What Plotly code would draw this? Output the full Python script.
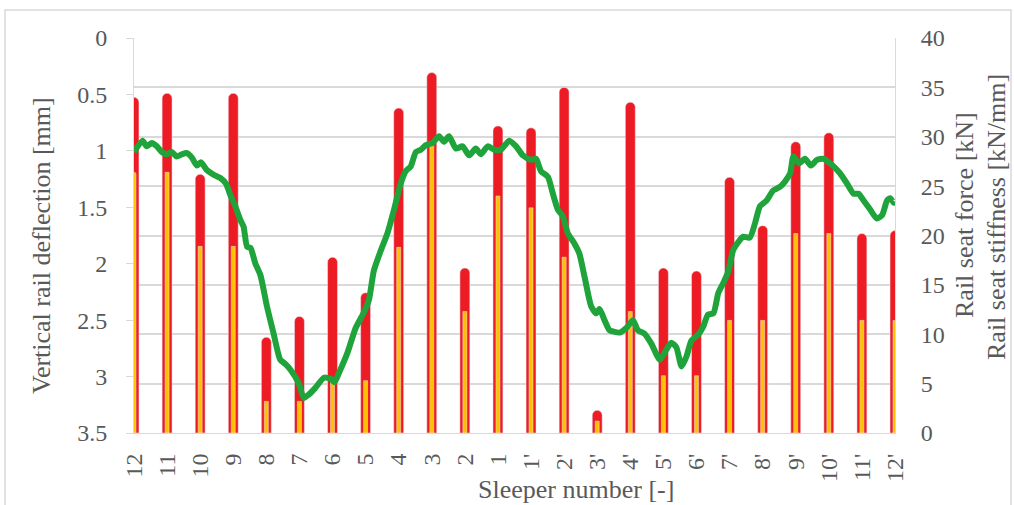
import plotly.graph_objects as go

categories = ["12", "11", "10", "9", "8", "7", "6", "5", "4", "3", "2", "1",
              "1'", "2'", "3'", "4'", "5'", "6'", "7'", "8'", "9'", "10'", "11'", "12'"]

# red bars (right axis, 0-40)
stiffness = [34.0, 34.4, 26.2, 34.4, 9.7, 11.8, 17.8, 14.2, 32.9, 36.5, 16.7, 31.1,
             30.9, 35.0, 2.3, 33.5, 16.7, 16.4, 25.9, 21.0, 29.5, 30.4, 20.2, 20.5]
# yellow bars (right axis, 0-40)
force = [26.4, 26.4, 18.9, 18.9, 3.2, 3.2, 5.4, 5.3, 18.8, 29.4, 12.3, 24.0,
         22.8, 17.8, 1.2, 12.3, 5.8, 5.8, 11.4, 11.4, 20.2, 20.2, 11.4, 11.4]

# green line: position along sleeper axis (category index units) and deflection [mm]
line_pos = [0.00, 0.26, 0.38, 0.54, 0.69, 0.84, 0.99, 1.14, 1.29, 1.45, 1.60, 1.75, 1.90, 2.02,
            2.20, 2.40, 2.61, 2.78, 2.91, 3.06, 3.21, 3.31, 3.42, 3.52, 3.67, 3.82, 4.02, 4.22,
            4.42, 4.58, 4.73, 4.98, 5.13, 5.28, 5.48, 5.74, 5.94, 6.06, 6.19, 6.45, 6.70, 6.95,
            7.10, 7.25, 7.45, 7.66, 7.86, 8.06, 8.21, 8.36, 8.52, 8.67, 8.82, 9.02, 9.22, 9.37,
            9.52, 9.73, 9.93, 10.13, 10.33, 10.48, 10.69, 10.89, 11.09, 11.34, 11.55, 11.75,
            12.00, 12.15, 12.30, 12.51, 12.66, 12.81, 12.96, 13.11, 13.31, 13.46, 13.62, 13.82,
            13.97, 14.07, 14.22, 14.37, 14.48, 14.68, 14.88, 15.08, 15.23, 15.43, 15.64, 15.89,
            16.09, 16.24, 16.39, 16.55, 16.70, 16.85, 17.05, 17.20, 17.35, 17.51, 17.66, 17.81,
            17.96, 18.11, 18.31, 18.41, 18.61, 18.77, 18.92, 19.12, 19.32, 19.52, 19.68, 19.83,
            19.93, 20.10, 20.28, 20.46, 20.64, 20.84, 20.99, 21.19, 21.34, 21.55, 21.75, 21.90,
            22.05, 22.25, 22.45, 22.61, 22.76, 22.86, 22.96, 23.00]
deflection = [1.01, 0.91, 0.96, 0.93, 0.96, 1.01, 1.03, 1.01, 1.05, 1.03, 1.02, 1.06, 1.13, 1.10,
              1.17, 1.21, 1.24, 1.29, 1.39, 1.49, 1.61, 1.67, 1.85, 1.86, 2.00, 2.10, 2.38, 2.62,
              2.85, 2.89, 2.94, 3.06, 3.19, 3.16, 3.10, 3.01, 3.02, 3.05, 2.97, 2.79, 2.57, 2.43,
              2.32, 2.06, 1.89, 1.73, 1.52, 1.29, 1.18, 1.14, 1.01, 0.99, 0.95, 0.93, 0.87, 0.92,
              0.87, 0.98, 0.96, 1.04, 0.98, 1.03, 0.96, 0.99, 0.99, 0.91, 0.96, 1.04,
              1.08, 1.07, 1.18, 1.23, 1.38, 1.52, 1.58, 1.73, 1.82, 1.91, 2.12, 2.38,
              2.44, 2.40, 2.50, 2.59, 2.60, 2.61, 2.57, 2.50, 2.59, 2.62, 2.71, 2.85,
              2.76, 2.70, 2.74, 2.91, 2.82, 2.68, 2.63, 2.56, 2.45, 2.44, 2.26, 2.17,
              2.07, 1.88, 1.79, 1.76, 1.77, 1.64, 1.49, 1.44, 1.35, 1.32, 1.27, 1.20,
              1.05, 1.11, 1.07, 1.13, 1.08, 1.07, 1.10, 1.15, 1.20, 1.29, 1.38, 1.38,
              1.44, 1.52, 1.60, 1.57, 1.44, 1.42, 1.46, 1.45]

left_ticks = [0, 0.5, 1, 1.5, 2, 2.5, 3, 3.5]
right_ticks = [0, 5, 10, 15, 20, 25, 30, 35, 40]

FONT = "Liberation Serif, Times New Roman, DejaVu Serif, serif"
GREY = "#595959"
GRID = "#d9d9d9"

idx = list(range(len(categories)))

fig = go.Figure()
fig.add_trace(go.Bar(x=idx, y=stiffness, width=0.30, marker=dict(color="#ED1C24", cornerradius=5),
                     name="Rail seat stiffness", yaxis="y"))
fig.add_trace(go.Bar(x=idx, y=force, width=0.12, marker=dict(color="#FFC000", cornerradius=2),
                     name="Rail seat force", yaxis="y"))
fig.add_trace(go.Scatter(x=line_pos, y=deflection, mode="lines", yaxis="y2",
                         line=dict(color="#1FA33B", width=6, shape="spline", smoothing=0.6),
                         name="Vertical rail deflection"))

W, H = 1014, 505
L, R, T, B = 134, 119, 38, 72
pw, ph = W - L - R, H - T - B


def px(x):
    return (x - L) / pw


def py(y):
    return (H - B - y) / ph


fig.update_layout(
    width=W, height=H,
    margin=dict(l=L, r=R, t=T, b=B),
    paper_bgcolor="white", plot_bgcolor="white",
    barmode="overlay", showlegend=False,
    font=dict(family=FONT, color=GREY, size=24),
    xaxis=dict(range=[0, 23], tickmode="array", tickvals=idx, ticktext=categories,
               tickangle=-90, showgrid=False, zeroline=False, showline=True,
               linecolor=GRID, linewidth=1, ticks="", ticklabelstandoff=10,
               tickfont=dict(family=FONT, size=24, color=GREY)),
    yaxis=dict(side="right", range=[0, 40], tickvals=right_ticks, showgrid=True,
               gridcolor=GRID, gridwidth=1.5, zeroline=False, showline=True, linecolor=GRID,
               linewidth=1, ticks="", ticklabelstandoff=20,
               tickfont=dict(family=FONT, size=24, color=GREY)),
    yaxis2=dict(side="left", overlaying="y", range=[3.5, 0], tickvals=left_ticks,
                ticktext=[("%g" % v) for v in left_ticks], showgrid=False, zeroline=False,
                showline=True, linecolor=GRID, linewidth=1, ticks="outside", ticklen=7,
                tickcolor=GRID, ticklabelstandoff=14,
                tickfont=dict(family=FONT, size=24, color=GREY)),
    annotations=[
        dict(text="Vertical rail deflection [mm]", x=px(42), y=py(246), xref="paper", yref="paper",
             textangle=-90, showarrow=False, xanchor="center", yanchor="middle",
             font=dict(family=FONT, size=26, color=GREY)),
        dict(text="Rail seat force [kN]", x=px(965), y=py(215), xref="paper", yref="paper",
             textangle=-90, showarrow=False, xanchor="center", yanchor="middle",
             font=dict(family=FONT, size=26, color=GREY)),
        dict(text="Rail seat stiffness [kN/mm]", x=px(996), y=py(217), xref="paper", yref="paper",
             textangle=-90, showarrow=False, xanchor="center", yanchor="middle",
             font=dict(family=FONT, size=26, color=GREY)),
        dict(text="Sleeper number [-]", x=px(576), y=py(489), xref="paper", yref="paper",
             showarrow=False, xanchor="center", yanchor="middle",
             font=dict(family=FONT, size=26, color=GREY)),
    ],
    shapes=[dict(type="rect", xref="paper", yref="paper", x0=px(5), x1=px(1011),
                 y0=py(510), y1=py(10), line=dict(color=GRID, width=1.5), layer="below")],
)

fig.write_html("out.html", config={"displayModeBar": False},
               post_script="document.body.style.margin='0';")
